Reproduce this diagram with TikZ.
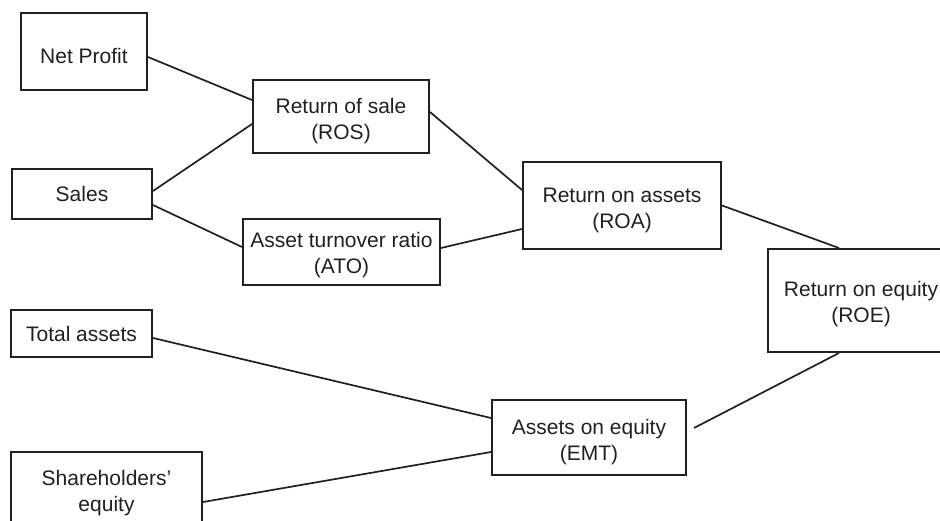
\documentclass[tikz,border=0pt]{standalone}
\usepackage{fontspec}
\setmainfont{Liberation Sans}
\usetikzlibrary{calc}
\definecolor{ink}{HTML}{231F20}
\begin{document}
\begin{tikzpicture}[x=1pt,y=-1pt,
  box/.style={draw=ink,line width=2pt,inner sep=0pt},
  lab/.style={align=center,text=ink,inner sep=0pt,font=\fontsize{21}{26}\selectfont},
  link/.style={draw=ink,line width=1.7pt}]
\useasboundingbox (0,0) rectangle (940,520);
\clip (0,0) rectangle (940,520);
\node[box,minimum width=126pt,minimum height=77pt,label={[lab,yshift=-4pt]center:Net Profit}] (np) at (84,51.5) {};
\node[box,minimum width=176pt,minimum height=73pt,label={[lab,yshift=-5pt]center:Return of sale\\(ROS)}] (ros) at (341,116.5) {};
\node[box,minimum width=140pt,minimum height=50pt,label={[lab]center:Sales}] (sales) at (82,194) {};
\node[box,minimum width=197pt,minimum height=66pt,label={[lab,yshift=-3.5pt]center:Asset turnover ratio\\(ATO)}] (ato) at (341.5,252) {};
\node[box,minimum width=198pt,minimum height=87pt,label={[lab,yshift=-5pt]center:Return on assets\\(ROA)}] (roa) at (622,205.5) {};
\node[box,minimum width=186pt,minimum height=103pt,label={[lab,yshift=-4pt]center:Return on equity\\(ROE)}] (roe) at (861,300.5) {};
\node[box,minimum width=141pt,minimum height=47pt,label={[lab]center:Total assets}] (ta) at (81.5,333.5) {};
\node[box,minimum width=191pt,minimum height=76pt,label={[lab,yshift=-3pt]center:Shareholders’\\equity}] (sh) at (106.5,490) {};
\node[box,minimum width=194pt,minimum height=75pt,label={[lab,yshift=-5pt]center:Assets on equity\\(EMT)}] (emt) at (589,437.5) {};
\coordinate (emtout) at ($(emt.east)+(7,-9.5)$);
\draw[link] ($(np.east)+(0,5.5)$) -- ($(ros.west)+(0,-16.5)$);
\draw[link] ($(sales.east)+(0,-3)$) -- ($(ros.west)+(0,7.5)$);
\draw[link] ($(sales.east)+(0,11)$) -- ($(ato.west)+(0,-5)$);
\draw[link] ($(ros.east)+(0,-4.5)$) -- ($(roa.west)+(0,-15.5)$);
\draw[link] ($(ato.east)+(0,-4)$) -- ($(roa.west)+(0,23.5)$);
\draw[link] (roa.east) -- ($(roe.north)+(-22,0)$);
\draw[link] ($(ta.east)+(0,4.5)$) -- ($(emt.west)+(0,-19.5)$);
\draw[link] ($(sh.east)+(0,12)$) -- ($(emt.west)+(0,14.5)$);
\draw[link] (emtout) -- ($(roe.south)+(-22,0)$);
\end{tikzpicture}
\end{document}
